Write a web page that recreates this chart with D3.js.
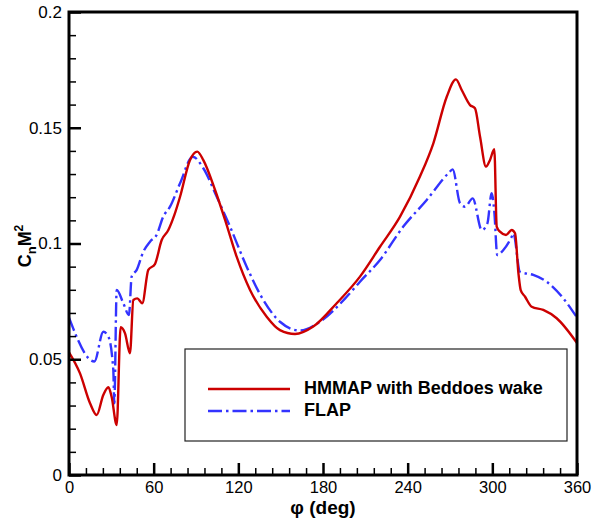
<!DOCTYPE html>
<html>
<head>
<meta charset="utf-8">
<script src="https://cdn.jsdelivr.net/npm/d3@7"></script>
<style>
  body { margin: 0; background: #fff; }
  svg { display: block; }
  text { font-family: "Liberation Sans", Arial, sans-serif; }
</style>
</head>
<body>
<svg id="chart" width="593" height="522"></svg>
<script>
// ---- data ----
const hmmapPhi = [0, 7.8, 14.9, 19.6, 24.3, 27.9, 30.2, 33.8, 36.6, 39.7, 43.2, 45.6, 48.4, 51.9, 56.2, 60.9, 65.7, 70.4, 74.5, 78.7, 85.7, 90.9, 95.2, 103.5, 110.6, 118.8, 128.3, 140.1, 149.5, 160.2, 173.1, 189.7, 206.2, 220.4, 234.6, 248.7, 258.2, 267.7, 274.2, 278.3, 284.2, 287.7, 291.3, 295.5, 298.3, 301.4, 303.1, 305.4, 309.7, 313.7, 316.1, 318.5, 320.1, 323.2, 327.9, 336.1, 345.6, 360];
const hmmapVal = [0.053, 0.0439, 0.031, 0.0259, 0.0346, 0.0379, 0.0338, 0.0216, 0.0638, 0.0612, 0.0526, 0.0756, 0.0763, 0.0742, 0.0886, 0.0911, 0.1015, 0.1058, 0.112, 0.1202, 0.136, 0.1397, 0.136, 0.1231, 0.1102, 0.0943, 0.0799, 0.0684, 0.0626, 0.0609, 0.0641, 0.0742, 0.0857, 0.0986, 0.1116, 0.1289, 0.1433, 0.1634, 0.1709, 0.1663, 0.1598, 0.1584, 0.1461, 0.1332, 0.136, 0.1407, 0.1073, 0.1051, 0.1037, 0.1058, 0.1044, 0.0871, 0.0799, 0.077, 0.0727, 0.0713, 0.0677, 0.057];

const flapPhi = [0, 18, 24.3, 27.9, 31.4, 32.1, 33.8, 38.5, 42.5, 44.4, 48, 52.7, 57.4, 62.1, 66.8, 71.6, 78.7, 87.7, 95.2, 104.7, 114.1, 125.9, 137.7, 149.5, 163.7, 177.9, 196.8, 206.2, 220.4, 236.9, 253.5, 268.8, 271.9, 277.1, 280.6, 286.1, 292.5, 296.5, 299.5, 301.4, 303.5, 307.8, 313.7, 314.9, 319.6, 329, 338.5, 350.3, 360];
const flapVal = [0.068, 0.049, 0.0619, 0.0598, 0.0454, 0.031, 0.0799, 0.0742, 0.0691, 0.0857, 0.0886, 0.0965, 0.1008, 0.1037, 0.1116, 0.1159, 0.126, 0.1375, 0.1325, 0.1202, 0.1073, 0.09, 0.0756, 0.0662, 0.0624, 0.0662, 0.077, 0.0835, 0.0929, 0.1073, 0.1188, 0.1303, 0.132, 0.1174, 0.1159, 0.1195, 0.1058, 0.1087, 0.1217, 0.1137, 0.095, 0.0972, 0.1029, 0.1044, 0.0878, 0.0864, 0.0835, 0.0763, 0.068];

const xTicks = [0, 60, 120, 180, 240, 300, 360];
const yTicks = [0, 0.05, 0.1, 0.15, 0.2];
const seriesNames = ["HMMAP with Beddoes wake", "FLAP"];

// ---- layout ----
const svg = d3.select("#chart");
const L = 69, R = 577, T = 12, B = 475;
const x = d3.scaleLinear().domain([0, 360]).range([L, R]);
const y = d3.scaleLinear().domain([0, 0.2]).range([B, T]);

// minor ticks
const xMinor = d3.range(0, 361, 12).filter(v => !xTicks.includes(v));
const yMinor = d3.range(0, 21, 1).map(v => v / 100).filter(v => !yTicks.some(t => Math.abs(t - v) < 1e-9));

const g = svg.append("g");

// curves
const line = d3.line().x(d => x(d[0])).y(d => y(d[1])).curve(d3.curveMonotoneX);
const hmmap = hmmapPhi.map((p, i) => [p, hmmapVal[i]]);
const flap = flapPhi.map((p, i) => [p, flapVal[i]]);

g.append("path").datum(flap).attr("d", line)
  .attr("fill", "none").attr("stroke", "#3333ff").attr("stroke-width", 2.4)
  .attr("stroke-dasharray", "14,4,2.5,4");
g.append("path").datum(hmmap).attr("d", line)
  .attr("fill", "none").attr("stroke", "#cc0000").attr("stroke-width", 2.4);

// axes via d3 axis generators (inward ticks)
const xAxis = d3.axisBottom(x).tickValues(xTicks).tickSize(-12).tickFormat(d3.format("d"));
const xAxisMinor = d3.axisBottom(x).tickValues(xMinor).tickSize(-7).tickFormat("");
const yAxis = d3.axisLeft(y).tickValues(yTicks).tickSize(-12).tickFormat(d => d === 0 ? "0" : String(+d.toFixed(2)));
const yAxisMinor = d3.axisLeft(y).tickValues(yMinor).tickSize(-7).tickFormat("");

function style(sel, w, fs) {
  sel.select(".domain").remove();
  sel.selectAll(".tick line").attr("stroke", "#000").attr("stroke-width", w);
  sel.selectAll(".tick text").attr("fill", "#000").attr("font-size", fs)
     .attr("font-family", "'Liberation Sans', Arial, sans-serif");
}
svg.append("g").attr("transform", `translate(0,${B})`).call(xAxisMinor).call(s => style(s, 1.5, 16.5));
svg.append("g").attr("transform", `translate(0,${B})`).call(xAxis).call(s => style(s, 2.5, 16.5))
  .selectAll(".tick text").attr("y", 18).attr("dy", "0");
svg.append("g").attr("transform", `translate(${L},0)`).call(yAxisMinor).call(s => style(s, 1.5, 17));
const ya = svg.append("g").attr("transform", `translate(${L},0)`).call(yAxis).call(s => style(s, 2.5, 17));
ya.selectAll(".tick text").attr("x", -7).attr("text-anchor", "end");

// frame
svg.append("rect").attr("x", L).attr("y", T).attr("width", R - L).attr("height", B - T)
  .attr("fill", "none").attr("stroke", "#000").attr("stroke-width", 3);

// axis titles
svg.append("text").attr("x", 323).attr("y", 514).attr("text-anchor", "middle")
  .attr("font-size", 19).attr("font-weight", "bold").text("φ (deg)");

const yt = svg.append("text").attr("transform", "translate(31,246) rotate(-90)")
  .attr("text-anchor", "middle").attr("font-size", 18).attr("font-weight", "bold");
yt.append("tspan").text("C");
yt.append("tspan").attr("font-size", 13).attr("dy", 5).text("n");
yt.append("tspan").attr("dy", -5).text("M");
yt.append("tspan").attr("font-size", 12).attr("dy", -8).text("2");

// legend
const lg = svg.append("g");
lg.append("rect").attr("x", 185).attr("y", 349).attr("width", 382).attr("height", 92)
  .attr("fill", "#fff").attr("stroke", "#222").attr("stroke-width", 1.2);
lg.append("line").attr("x1", 208).attr("x2", 290).attr("y1", 389).attr("y2", 389)
  .attr("stroke", "#cc0000").attr("stroke-width", 2.4);
lg.append("line").attr("x1", 208).attr("x2", 290).attr("y1", 411).attr("y2", 411)
  .attr("stroke", "#3333ff").attr("stroke-width", 2.4).attr("stroke-dasharray", "14,4,2.5,4");
lg.append("text").attr("x", 304).attr("y", 394).attr("font-size", 18).attr("font-weight", "bold").text(seriesNames[0]);
lg.append("text").attr("x", 304).attr("y", 416).attr("font-size", 18).attr("font-weight", "bold").text(seriesNames[1]);
</script>
</body>
</html>
